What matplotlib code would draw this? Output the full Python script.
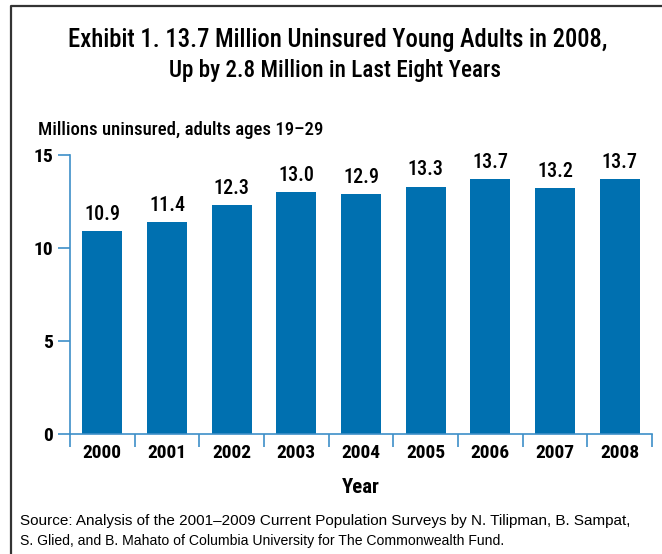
import matplotlib.pyplot as plt
from matplotlib import font_manager
from matplotlib.lines import Line2D

# Data
years = ['2000', '2001', '2002', '2003', '2004', '2005', '2006', '2007', '2008']
uninsured = [10.9, 11.4, 12.3, 13.0, 12.9, 13.3, 13.7, 13.2, 13.7]
yticks = [0, 5, 10, 15]

title_lines = ['Exhibit 1. 13.7 Million Uninsured Young Adults in 2008,',
               'Up by 2.8 Million in Last Eight Years']
units_label = 'Millions uninsured, adults ages 19\u201329'
source_lines = ['Source: Analysis of the 2001\u20132009 Current Population Surveys by N. Tilipman, B. Sampat,',
                'S. Glied, and B. Mahato of Columbia University for The Commonwealth Fund.']

# pick the narrowest family that is installed
installed = {f.name for f in font_manager.fontManager.ttflist}
narrow = 'Roboto'
for cand in ['Roboto Condensed', 'Liberation Sans Narrow', 'Open Sans Condensed', 'Roboto']:
    if cand in installed:
        narrow = cand
        break
regular = 'Liberation Sans' if 'Liberation Sans' in installed else 'DejaVu Sans'

bar_color = '#0070b0'
axis_color = '#3d8fc8'

fig = plt.figure(figsize=(6.62, 5.54), dpi=100)
W, H = 662, 554
ax = fig.add_axes([70 / W, 1 - 434 / H, (652 - 70) / W, (434 - 155) / H])

x = range(len(years))
ax.bar(x, uninsured, width=0.62, color=bar_color, zorder=2)
for i, v in zip(x, uninsured):
    ax.text(i, v + 0.4, f'{v:.1f}', ha='center', va='bottom',
            fontsize=14.5, family=narrow, fontweight='medium')

ax.set_xlim(-0.5, len(years) - 0.5)
ax.set_ylim(0, 15)
ax.set_yticks(yticks)
ax.set_yticklabels([str(t) for t in yticks], fontsize=14, family=narrow,
                   fontweight='bold')
ax.set_xticks(list(x))
ax.set_xticklabels(years, fontsize=14, family=narrow, fontweight='bold')
ax.set_xticks([i - 0.5 for i in range(len(years) + 1)], minor=True)
ax.tick_params(axis='x', which='major', length=0, pad=7)
ax.tick_params(axis='x', which='minor', length=9, width=1.2, color=axis_color)
ax.tick_params(axis='y', length=9, width=1.2, color=axis_color, pad=3)

for s in ['top', 'right']:
    ax.spines[s].set_visible(False)
for s in ['left', 'bottom']:
    ax.spines[s].set_color(axis_color)
    ax.spines[s].set_linewidth(1.2)

ax.set_xlabel('Year', fontsize=15, family=narrow, fontweight='bold', labelpad=12)

# Titles and notes
texts = []
texts.append((fig.text(338 / W, 1 - 40 / H, title_lines[0], ha='center', va='center',
                       fontsize=19, family=narrow, fontweight='medium'), 541))
texts.append((fig.text(335 / W, 1 - 70 / H, title_lines[1], ha='center', va='center',
                       fontsize=19, family=narrow, fontweight='medium'), 331))
texts.append((fig.text(20 / W, 1 - 521 / H, source_lines[0], ha='left', va='center',
                       fontsize=11, family=regular), 611))
texts.append((fig.text(20 / W, 1 - 541 / H, source_lines[1], ha='left', va='center',
                       fontsize=11, family=regular), 480))
fig.text(38 / W, 1 - 130 / H, units_label, ha='left', va='center',
         fontsize=13.5, family=narrow, fontweight='medium')

# scale font sizes so the lines span the same width as in the exhibit
renderer = fig.canvas.get_renderer()
for t, target in texts:
    w = t.get_window_extent(renderer).width
    t.set_fontsize(t.get_fontsize() * target / w)

# Frame lines
fig.add_artist(Line2D([11 / W, 11 / W, 1.0], [0.0, 1 - 6 / H, 1 - 6 / H],
                      transform=fig.transFigure, color='#333333', linewidth=1.6))

fig.savefig('out.png', dpi=100)
